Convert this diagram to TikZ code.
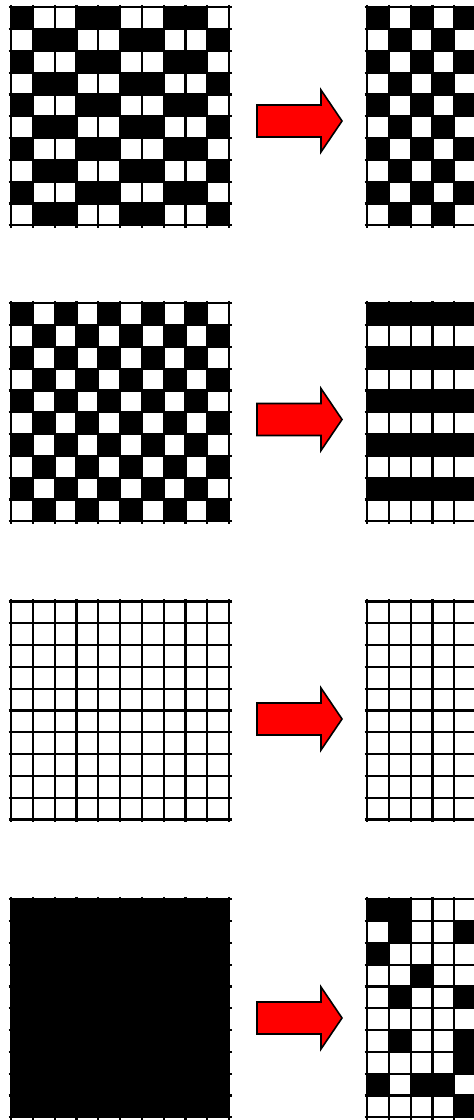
\documentclass[tikz,border=0pt]{standalone}
\newcommand\mycell[4]{\fill[black] (#1+#4*21.8,#2+#3*21.8) rectangle ++(21.8,21.8);}
\newcommand\mygridlines[2]{%
  \foreach \i in {0,...,10}{%
    \draw[gridline] (#1+\i*21.8,#2-2.5) -- (#1+\i*21.8,#2+218+2.5);
    \draw[gridline] (#1-2.5,#2+\i*21.8) -- (#1+218+2.5,#2+\i*21.8);
  }}
\newcommand\myarrow[1]{%
  \draw[bigarrow] (257,#1-16) -- (321,#1-16) -- (321,#1-31) -- (342,#1)
    -- (321,#1+31) -- (321,#1+16) -- (257,#1+16) -- cycle;}
\begin{document}
\begin{tikzpicture}[x=1pt,y=-1pt,
  gridline/.style={line width=2.2pt,draw=black},
  bigarrow/.style={fill=red,draw=black,line width=1.6pt,line join=miter}]
\useasboundingbox (0,0) rectangle (474,1120);
\clip (0,0) rectangle (474,1120);
\fill[white] (0,0) rectangle (474,1120);
% ---- row 1 ----
\foreach \r in {0,...,9}{\foreach \c in {0,...,9}{%
  \pgfmathtruncatemacro\b{mod(\c+1+2*mod(\r,2),4)<2}%
  \ifnum\b=1 \mycell{11}{7.3}{\r}{\c}\fi}}
\mygridlines{11}{7.3}
\foreach \r in {0,...,9}{\foreach \c in {0,...,9}{%
  \pgfmathtruncatemacro\b{mod(\r+\c,2)==0}%
  \ifnum\b=1 \mycell{367}{7.3}{\r}{\c}\fi}}
\mygridlines{367}{7.3}
\myarrow{121}
% ---- row 2 ----
\foreach \r in {0,...,9}{\foreach \c in {0,...,9}{%
  \pgfmathtruncatemacro\b{mod(\r+\c,2)==0}%
  \ifnum\b=1 \mycell{11}{303.3}{\r}{\c}\fi}}
\mygridlines{11}{303.3}
\foreach \r in {0,2,4,6,8}{\foreach \c in {0,...,9}{\mycell{367}{303.3}{\r}{\c}}}
\mygridlines{367}{303.3}
\myarrow{419.5}
% ---- row 3 ----
\mygridlines{11}{601.5}
\mygridlines{367}{601.5}
\myarrow{719}
% ---- row 4 ----
\fill[black] (11,899.3) rectangle ++(218,218);
\mygridlines{11}{899.3}
\foreach \r/\c in {0/0,0/1,1/1,1/4,2/0,3/2,4/1,4/4,6/1,6/4,7/4,8/0,8/2,8/3,9/4}{\mycell{367}{899.3}{\r}{\c}}
\mygridlines{367}{899.3}
\myarrow{1018}
\end{tikzpicture}
\end{document}
